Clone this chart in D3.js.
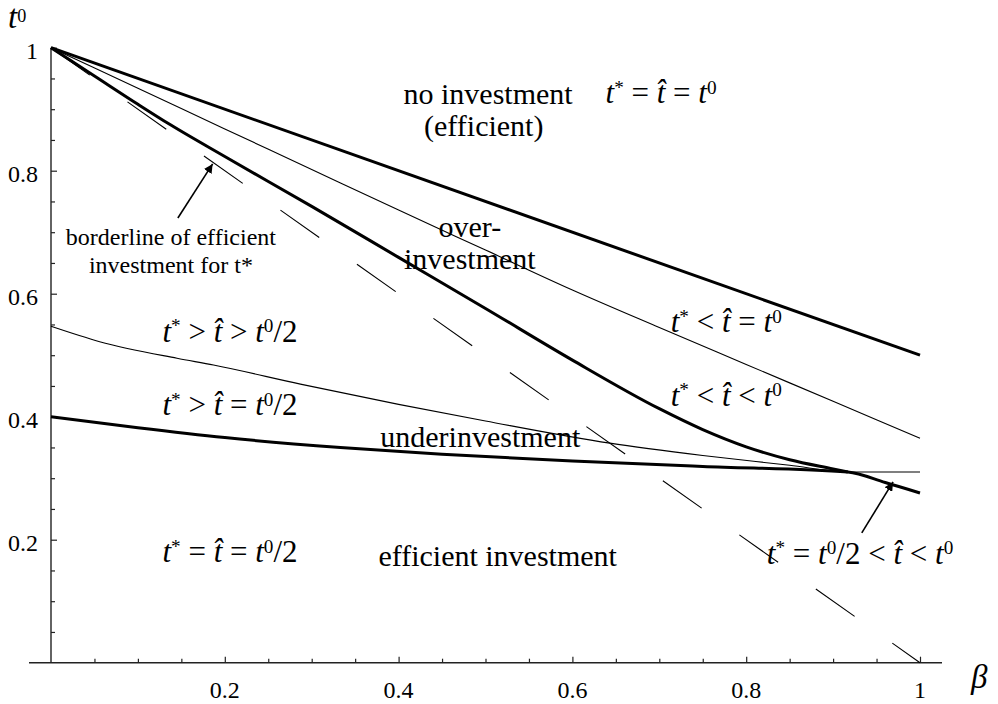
<!DOCTYPE html>
<html>
<head>
<meta charset="utf-8">
<script src="https://cdn.jsdelivr.net/npm/d3@7"></script>
<style>
  body { margin: 0; background: #fff; }
</style>
</head>
<body>
<svg id="chart" width="998" height="704" font-family="'Liberation Serif', 'Times New Roman', Times, serif"></svg>
<script>
// boundary curves, beta on x, t0 on y
var upperBeta = [0, 1];
var upperT = [1, 0.5];

var thinUpperBeta = [0, 0.1, 0.2, 0.3, 0.4, 0.5, 0.6, 0.7, 0.8, 0.9, 1];
var thinUpperT = [1, 0.934, 0.868, 0.802, 0.736, 0.671, 0.606, 0.545, 0.485, 0.425, 0.365];

var borderBeta = [0, 0.05, 0.1, 0.137, 0.2, 0.3, 0.4, 0.5, 0.6, 0.7, 0.75, 0.8, 0.85, 0.9, 0.917];
var borderT = [1, 0.954, 0.908, 0.875, 0.823, 0.742, 0.659, 0.576, 0.492, 0.413, 0.379, 0.351, 0.33, 0.315, 0.31];

var thinLowerBeta = [0, 0.056, 0.145, 0.187, 0.287, 0.4, 0.5, 0.643, 0.75, 0.85, 0.917, 1];
var thinLowerT = [0.547, 0.522, 0.495, 0.484, 0.453, 0.42, 0.393, 0.357, 0.337, 0.321, 0.31, 0.31];

var lowerBeta = [0, 0.1, 0.2, 0.333, 0.45, 0.6, 0.75, 0.917, 0.96, 1];
var lowerT = [0.4, 0.382, 0.366, 0.35, 0.339, 0.328, 0.319, 0.31, 0.293, 0.276];

// efficient investment for t*, straight t0 = 1 - beta
var dashBeta = [0, 1];
var dashT = [1, 0];

var xMajor = [0.2, 0.4, 0.6, 0.8, 1];
var yMajor = [0.2, 0.4, 0.6, 0.8, 1];

var svg = d3.select('#chart');

var x = d3.scaleLinear().domain([0, 1]).range([51, 920]);
var y = d3.scaleLinear().domain([0, 1]).range([662.7, 47.7]);

function zip(bs, ts) {
  return bs.map(function(b, i) { return [b, ts[i]]; });
}

var line = d3.line()
  .x(function(d) { return x(d[0]); })
  .y(function(d) { return y(d[1]); })
  .curve(d3.curveMonotoneX);

// axes
var minorTicks = d3.range(1, 20).map(function(i) { return i / 20; })
  .filter(function(v) { return Math.round(v * 100) % 20 !== 0; });

function tickAxis(axis, vals, size) {
  return axis.tickValues(vals).tickSize(size).tickFormat('');
}

var gx = svg.append('g').attr('transform', 'translate(0,' + y(0) + ')');
gx.append('g').call(tickAxis(d3.axisTop(x), minorTicks, 4));
gx.append('g').call(tickAxis(d3.axisTop(x), xMajor, 6));
var gy = svg.append('g').attr('transform', 'translate(' + x(0) + ',0)');
gy.append('g').call(tickAxis(d3.axisRight(y), minorTicks, 4));
gy.append('g').call(tickAxis(d3.axisRight(y), yMajor, 6));
svg.selectAll('.domain').remove();
svg.selectAll('.tick line').attr('stroke', '#222').attr('stroke-width', 1.2);

svg.append('line')
  .attr('x1', x(0) - 22).attr('x2', x(1) + 22)
  .attr('y1', y(0)).attr('y2', y(0))
  .attr('stroke', '#222').attr('stroke-width', 1.4);
svg.append('line')
  .attr('x1', x(0)).attr('x2', x(0))
  .attr('y1', y(1)).attr('y2', y(0))
  .attr('stroke', '#222').attr('stroke-width', 1.4);

svg.append('g').selectAll('text')
  .data(xMajor).enter().append('text')
  .attr('x', function(d) { return x(d); })
  .attr('y', y(0) + 35)
  .attr('text-anchor', 'middle')
  .attr('font-size', 24)
  .text(function(d) { return d === 1 ? '1' : d3.format('.1f')(d); });

svg.append('g').selectAll('text')
  .data(yMajor).enter().append('text')
  .attr('x', x(0) - 13)
  .attr('y', function(d) { return y(d) + 11; })
  .attr('text-anchor', 'end')
  .attr('font-size', 24)
  .text(function(d) { return d === 1 ? '1' : d3.format('.1f')(d); });

// curves
var curves = [
  { pts: zip(upperBeta, upperT), w: 3 },
  { pts: zip(thinUpperBeta, thinUpperT), w: 1.1 },
  { pts: zip(borderBeta, borderT), w: 3 },
  { pts: zip(thinLowerBeta, thinLowerT), w: 1.1 },
  { pts: zip(lowerBeta, lowerT), w: 3 },
  { pts: zip(dashBeta, dashT), w: 1.1, dash: '47.5,46.2' }
];

svg.append('g').selectAll('path')
  .data(curves).enter().append('path')
  .attr('d', function(d) { return line(d.pts); })
  .attr('fill', 'none')
  .attr('stroke', '#000')
  .attr('stroke-width', function(d) { return d.w; })
  .attr('stroke-linejoin', 'round')
  .attr('stroke-dasharray', function(d) { return d.dash || null; });

// math labels: [text, style]
function mathText(px, py, parts, size, anchor, shift, ratio) {
  var up = shift || 0.3;
  var supSize = size * (ratio || 0.62);
  var t = svg.append('text')
    .attr('x', px).attr('y', py)
    .attr('font-size', size)
    .attr('text-anchor', anchor || 'middle');
  var raised = false;
  parts.forEach(function(p) {
    var s = t.append('tspan').text(p[0]);
    if (p[1] === 'i') s.attr('font-style', 'italic');
    if (p[1] === 'sup') {
      s.attr('font-size', supSize).attr('dy', -size * up);
      raised = true;
    } else if (raised) {
      s.attr('dy', size * up);
      raised = false;
    }
  });
  return t;
}

var T = ['t', 'i'], HAT = ['t\u0302', 'i'], STAR = ['*', 'sup'], ZERO = ['0', 'sup'];
function op(c) { return ['\u00a0' + c + '\u00a0', 'n']; }
var HALF = ['/2', 'n'];

var mathLabels = [
  { b: 0.702, t: 0.910, parts: [T, STAR, op('='), HAT, op('='), T, ZERO] },
  { b: 0.777, t: 0.537, parts: [T, STAR, op('<'), HAT, op('='), T, ZERO] },
  { b: 0.777, t: 0.418, parts: [T, STAR, op('<'), HAT, op('<'), T, ZERO] },
  { b: 0.206, t: 0.522, parts: [T, STAR, op('>'), HAT, op('>'), T, ZERO, HALF] },
  { b: 0.206, t: 0.403, parts: [T, STAR, op('>'), HAT, op('='), T, ZERO, HALF] },
  { b: 0.206, t: 0.163, parts: [T, STAR, op('='), HAT, op('='), T, ZERO, HALF] },
  { b: 0.931, t: 0.161, parts: [T, STAR, op('='), T, ZERO, HALF, op('<'), HAT, op('<'), T, ZERO] }
];
mathLabels.forEach(function(d) {
  mathText(x(d.b), y(d.t), d.parts, 31);
});

var textLabels = [
  { b: 0.503, t: 0.909, s: 'no investment', size: 30 },
  { b: 0.498, t: 0.857, s: '(efficient)', size: 30 },
  { b: 0.482, t: 0.692, s: 'over-', size: 30 },
  { b: 0.482, t: 0.640, s: 'investment', size: 30 },
  { b: 0.494, t: 0.351, s: 'underinvestment', size: 30 },
  { b: 0.514, t: 0.157, s: 'efficient investment', size: 30 },
  { b: 0.138, t: 0.679, s: 'borderline of efficient', size: 24 },
  { b: 0.138, t: 0.634, s: 'investment for t*', size: 24 }
];
svg.append('g').selectAll('text')
  .data(textLabels).enter().append('text')
  .attr('x', function(d) { return x(d.b); })
  .attr('y', function(d) { return y(d.t); })
  .attr('text-anchor', 'middle')
  .attr('font-size', function(d) { return d.size; })
  .text(function(d) { return d.s; });

// axis titles
mathText(8, 28, [T, ZERO], 33, 'start', 0.19, 0.55);
svg.append('text')
  .attr('x', 971).attr('y', 688)
  .attr('font-size', 33)
  .attr('font-style', 'italic')
  .text('\u03b2');

// arrows
var defs = svg.append('defs');
defs.append('marker')
  .attr('id', 'head')
  .attr('viewBox', '0 0 10 10')
  .attr('refX', 10).attr('refY', 5)
  .attr('markerWidth', 9).attr('markerHeight', 9)
  .attr('markerUnits', 'userSpaceOnUse')
  .attr('orient', 'auto')
  .append('path').attr('d', 'M0,0L10,5L0,10Z').attr('fill', '#000');

var arrows = [
  { from: [0.146, 0.723], to: [0.186, 0.811] },
  { from: [0.933, 0.211], to: [0.969, 0.294] }
];
svg.append('g').selectAll('line')
  .data(arrows).enter().append('line')
  .attr('x1', function(d) { return x(d.from[0]); })
  .attr('y1', function(d) { return y(d.from[1]); })
  .attr('x2', function(d) { return x(d.to[0]); })
  .attr('y2', function(d) { return y(d.to[1]); })
  .attr('stroke', '#000')
  .attr('stroke-width', 1.6)
  .attr('marker-end', 'url(#head)');
</script>
</body>
</html>
